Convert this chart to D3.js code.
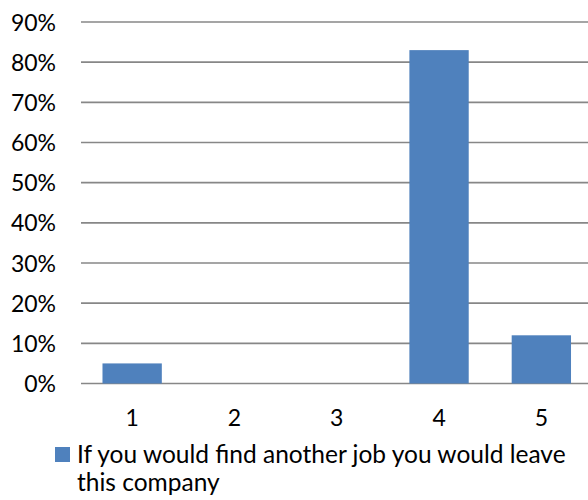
<!DOCTYPE html>
<html>
<head>
<meta charset="utf-8">
<script src="https://cdn.jsdelivr.net/npm/d3@7"></script>
<style>
  html, body { margin: 0; padding: 0; background: #fff; }
  svg text { font-family: Lato, "Open Sans", sans-serif; fill: #000; }
</style>
</head>
<body>
<svg id="chart" width="588" height="500"></svg>
<script>
// Survey answer categories (scale 1–5) and the share of respondents choosing each
const categories = ["1", "2", "3", "4", "5"];
const shares = [0.05, 0, 0, 0.83, 0.12];
const yTicks = [0, 0.1, 0.2, 0.3, 0.4, 0.5, 0.6, 0.7, 0.8, 0.9];
const seriesName = "If you would find another job you would leave this company";

const svg = d3.select("#chart");
const plotLeft = 81, plotRight = 592.5, plotTop = 22, plotBottom = 383.5;

const x = d3.scaleBand().domain(categories).range([plotLeft, plotRight]).paddingInner(0.42).paddingOuter(0.21);
const y = d3.scaleLinear().domain([0, 0.9]).range([plotBottom, plotTop]);

// Horizontal gridlines
svg.append("g").selectAll("line").data(yTicks).join("line")
  .attr("x1", plotLeft).attr("x2", plotRight)
  .attr("y1", d => y(d)).attr("y2", d => y(d))
  .attr("stroke", "#878787").attr("stroke-width", 1.6);

// Y axis labels
const yAxis = d3.axisLeft(y).tickValues(yTicks).tickFormat(d3.format(".0%")).tickSize(0).tickPadding(0);
const yg = svg.append("g").attr("transform", "translate(56,0)").call(yAxis);
yg.select(".domain").remove();
yg.selectAll("text").attr("font-size", 23).attr("font-family", "Lato").attr("fill", "#000").attr("dy", "0.35em");

// Bars
svg.append("g").selectAll("rect").data(categories).join("rect")
  .attr("x", d => x(d))
  .attr("width", x.bandwidth())
  .attr("y", (d, i) => y(shares[i]))
  .attr("height", (d, i) => y(0) - y(shares[i]))
  .attr("fill", "#4F81BD");

// X axis labels
const xAxis = d3.axisBottom(x).tickSize(0).tickPadding(0);
const xg = svg.append("g").attr("transform", "translate(0,426)").call(xAxis);
xg.select(".domain").remove();
xg.selectAll("text").attr("font-size", 23).attr("font-family", "Lato").attr("fill", "#000").attr("dy", 0);

// Legend
const legend = svg.append("g");
legend.append("rect").attr("x", 55).attr("y", 447).attr("width", 15).attr("height", 15).attr("fill", "#4F81BD");
const words = seriesName.split(" ");
const line1 = words.slice(0, 9).join(" ");
const line2 = words.slice(9).join(" ");
const lt = legend.append("text").attr("font-size", 24.5).attr("font-family", "Lato");
lt.append("tspan").attr("x", 77).attr("y", 463).text(line1);
lt.append("tspan").attr("x", 77).attr("y", 491).text(line2);
</script>
</body>
</html>
